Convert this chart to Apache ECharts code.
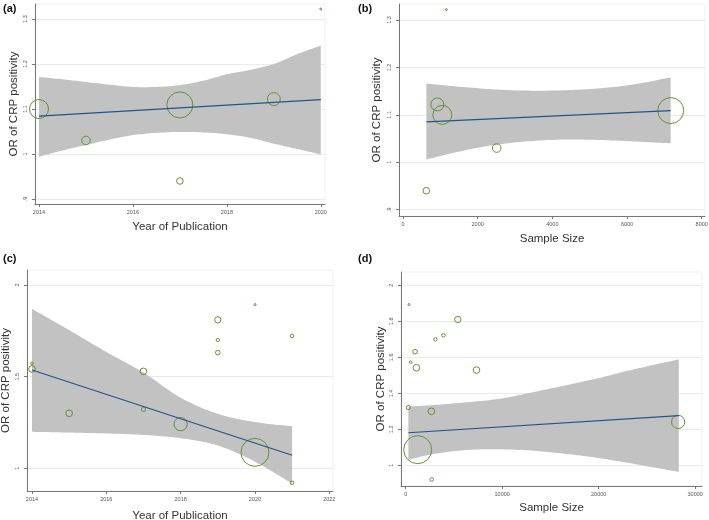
<!DOCTYPE html>
<html>
<head>
<meta charset="utf-8">
<script src="https://cdn.jsdelivr.net/npm/echarts@6/dist/echarts.min.js"></script>
<style>html,body{margin:0;padding:0;background:#fff}#c{width:709px;height:520px}</style>
</head>
<body>
<div id="c"></div>
<script>
// ---------- Data ----------
// Panel (a)/(b): studies
const abYear   = [2014, 2015, 2017, 2017, 2019, 2020];
const abSample = [1054, 2509, 625, 7170, 920, 1161];
const abOR     = [1.100, 1.030, 0.940, 1.109, 1.122, 1.322];
const abWeight = [90, 18.5, 11, 169, 42, 1];

// Panel (a) fit and CI band
const aFitX = [2014, 2020];
const aFitY = [1.084, 1.121];
const aBandX = [2014, 2014.5, 2015, 2015.5, 2016, 2016.5, 2017, 2017.5, 2018, 2018.5, 2019, 2019.5, 2020];
const aBandHi = [1.171, 1.166, 1.160, 1.154, 1.149, 1.149, 1.153, 1.163, 1.177, 1.187, 1.200, 1.222, 1.241];
const aBandLo = [0.994, 1.008, 1.020, 1.032, 1.042, 1.047, 1.049, 1.048, 1.044, 1.036, 1.023, 1.011, 0.999];

// Panel (b) fit and CI band
const bFitX = [627, 7168];
const bFitY = [1.085, 1.109];
const bBandX = [627, 1700, 2592, 3485, 4380, 5273, 6166, 7168];
const bBandHi = [1.166, 1.158, 1.153, 1.151, 1.152, 1.156, 1.164, 1.179];
const bBandLo = [1.006, 1.026, 1.038, 1.045, 1.048, 1.047, 1.044, 1.040];

// Panel (c)/(d): studies
const cdYear   = [2014, 2014, 2015, 2017, 2017, 2018, 2019, 2019, 2019, 2020, 2020, 2021, 2021];
const cdSample = [519, 1107, 2664, 7336, 277, 28235, 5398, 3080, 969, 346, 1246, 3910, 2699];
const cdOR     = [1.573, 1.542, 1.300, 1.529, 1.321, 1.241, 1.810, 1.700, 1.631, 1.893, 1.087, 1.722, 0.921];
const cdWeight = [1.7, 11, 11, 11, 4.5, 44, 10, 2.8, 5.3, 1, 196, 3.2, 3.2];

// Panel (c) fit and CI band
const cFitX = [2014, 2021];
const cFitY = [1.536, 1.071];
const cBandX = [2014, 2015, 2016, 2017, 2018, 2019, 2020, 2021];
const cBandHi = [1.870, 1.754, 1.635, 1.522, 1.385, 1.297, 1.252, 1.230];
const cBandLo = [1.199, 1.195, 1.190, 1.182, 1.164, 1.124, 1.036, 0.916];

// Panel (d) fit and CI band
const dFitX = [277, 28300];
const dFitY = [1.181, 1.276];
const dBandX = [277, 2870, 6330, 9790, 13250, 16710, 20170, 23630, 28300];
const dBandHi = [1.326, 1.335, 1.350, 1.370, 1.407, 1.446, 1.487, 1.533, 1.589];
const dBandLo = [1.030, 1.063, 1.085, 1.089, 1.081, 1.063, 1.039, 1.008, 0.963];

// Tick values
const yearTicksA = [2014, 2016, 2018, 2020];
const yearTicksC = [2014, 2016, 2018, 2020, 2022];
const sizeTicksB = [0, 2000, 4000, 6000, 8000];
const sizeTicksD = [0, 10000, 20000, 30000];
const orTicksAB = [0.9, 1, 1.1, 1.2, 1.3];
const orTicksC  = [1, 1.5, 2];
const orTicksD  = [1, 1.2, 1.4, 1.6, 1.8, 2];

// ---------- Styling ----------
const FONT = 'Liberation Sans';
const GREEN = '#64903a';
const BLUE = '#22548a';
const BAND = '#c2c2c2';
const GRIDC = '#e4ecec';
const AXISC = '#777';

function fmtOR(v) {
  let s = String(+v.toFixed(2));
  if (s.startsWith('0.')) s = s.slice(1);
  return s;
}

// Smooth a pixel-space polyline (Catmull-Rom) for drawing only
function smoothPts(pts, steps) {
  const out = [];
  const n = pts.length;
  for (let i = 0; i < n - 1; i++) {
    const p0 = pts[Math.max(i - 1, 0)], p1 = pts[i], p2 = pts[i + 1], p3 = pts[Math.min(i + 2, n - 1)];
    for (let s = 0; s < steps; s++) {
      const t = s / steps, t2 = t * t, t3 = t2 * t;
      const f = (a, b, c, d) => 0.5 * ((2 * b) + (-a + c) * t + (2 * a - 5 * b + 4 * c - d) * t2 + (-a + 3 * b - 3 * c + d) * t3);
      out.push([f(p0[0], p1[0], p2[0], p3[0]), f(p0[1], p1[1], p2[1], p3[1])]);
    }
  }
  out.push(pts[n - 1]);
  return out;
}

const panels = [
  {label: '(a)', lx: 3, ly: 3, grid: {left: 35, top: 4, width: 290, height: 200},
   xMin: 2013.915, xMax: 2020.09, yMin: 0.8889, yMax: 1.3333,
   xTicks: yearTicksA, yTicks: orTicksAB, xName: 'Year of Publication', xGap: 17, yGap: 15,
   px: abYear, py: abOR, pw: abWeight, fx: aFitX, fy: aFitY, bx: aBandX, bh: aBandHi, bl: aBandLo},
  {label: '(b)', lx: 358, ly: 3, grid: {left: 399, top: 4, width: 306, height: 212},
   xMin: -107, xMax: 8088, yMin: 0.8867, yMax: 1.3338,
   xTicks: sizeTicksB, yTicks: orTicksAB, xName: 'Sample Size', xGap: 17, yGap: 16,
   px: abSample, py: abOR, pw: abWeight, fx: bFitX, fy: bFitY, bx: bBandX, bh: bBandHi, bl: bBandLo},
  {label: '(c)', lx: 3, ly: 253, grid: {left: 27, top: 270, width: 306, height: 221},
   xMin: 2013.866, xMax: 2022.1, yMin: 0.876, yMax: 2.082,
   xTicks: yearTicksC, yTicks: orTicksC, xName: 'Year of Publication', xGap: 19, yGap: 15,
   px: cdYear, py: cdOR, pw: cdWeight, fx: cFitX, fy: cFitY, bx: cBandX, bh: cBandHi, bl: cBandLo},
  {label: '(d)', lx: 358, ly: 253, grid: {left: 401, top: 272, width: 301, height: 214},
   xMin: -487, xMax: 30705, yMin: 0.885, yMax: 2.074,
   xTicks: sizeTicksD, yTicks: orTicksD, xName: 'Sample Size', xGap: 16, yGap: 13,
   px: cdSample, py: cdOR, pw: cdWeight, fx: dFitX, fy: dFitY, bx: dBandX, bh: dBandHi, bl: dBandLo}
];

const option = {
  animation: false,
  backgroundColor: '#fff',
  textStyle: {fontFamily: FONT},
  grid: [], xAxis: [], yAxis: [], series: [], graphic: []
};

panels.forEach((p, i) => {
  option.grid.push(Object.assign({show: true, borderColor: '#eef2f2', borderWidth: 1,
    containLabel: false, outerBoundsMode: 'none'}, p.grid));
  option.xAxis.push({
    type: 'value', gridIndex: i, min: p.xMin, max: p.xMax,
    name: p.xName, nameLocation: 'middle', nameGap: p.xGap,
    nameTextStyle: {fontFamily: FONT, fontSize: 11.5, color: '#333'},
    axisLine: {show: true, onZero: false, lineStyle: {color: AXISC, width: 1}},
    axisTick: {show: true, length: 3, lineStyle: {color: AXISC}, customValues: p.xTicks},
    axisLabel: {fontSize: 5.5, color: '#555', margin: 5, customValues: p.xTicks,
      formatter: v => String(v)},
    splitLine: {show: false}
  });
  option.yAxis.push({
    type: 'value', gridIndex: i, min: p.yMin, max: p.yMax,
    name: 'OR of CRP positivity', nameLocation: 'middle', nameGap: p.yGap,
    nameTextStyle: {fontFamily: FONT, fontSize: 11.5, color: '#333'},
    axisLine: {show: true, onZero: false, lineStyle: {color: AXISC, width: 1}},
    axisTick: {show: true, length: 3, lineStyle: {color: AXISC}, customValues: p.yTicks},
    axisLabel: {fontSize: 5.5, color: '#555', margin: 7, rotate: 90, customValues: p.yTicks,
      formatter: v => fmtOR(v)},
    splitLine: {show: true, lineStyle: {color: GRIDC, width: 1}}
  });
  // CI band (smooth outline through the read points)
  const bx = p.bx, bh = p.bh, bl = p.bl;
  option.series.push({
    type: 'custom', xAxisIndex: i, yAxisIndex: i, z: 1, clip: true, silent: true,
    data: bx.map((x, k) => [x, bl[k], bh[k]]),
    encode: {x: 0, y: [1, 2]},
    renderItem: function (params, api) {
      if (params.dataIndex !== 0) return null;
      const up = bx.map((x, k) => api.coord([x, bh[k]]));
      const lo = bx.map((x, k) => api.coord([x, bl[k]]));
      const pts = smoothPts(up, 12).concat(smoothPts(lo, 12).reverse());
      return {type: 'polygon', shape: {points: pts}, style: {fill: BAND, stroke: null}};
    }
  });
  // Study bubbles
  option.series.push({
    type: 'scatter', xAxisIndex: i, yAxisIndex: i, z: 3,
    data: p.px.map((x, k) => [x, p.py[k], p.pw[k]]),
    symbol: 'circle',
    symbolSize: d => 2 * Math.sqrt(d[2]),
    itemStyle: {color: 'rgba(0,0,0,0)', borderColor: GREEN, borderWidth: 1, opacity: 1},
    emphasis: {disabled: true}
  });
  // Fitted line
  option.series.push({
    type: 'line', xAxisIndex: i, yAxisIndex: i, z: 4,
    data: p.fx.map((x, k) => [x, p.fy[k]]),
    showSymbol: false, symbol: 'none',
    lineStyle: {color: BLUE, width: 1.2}
  });
  option.graphic.push({
    type: 'text', left: p.lx, top: p.ly,
    style: {text: p.label, fontFamily: FONT, fontSize: 11, fontWeight: 'bold', fill: '#111'}
  });
});

const chart = echarts.init(document.getElementById('c'), null, {renderer: 'canvas'});
chart.setOption(option);
</script>
</body>
</html>
